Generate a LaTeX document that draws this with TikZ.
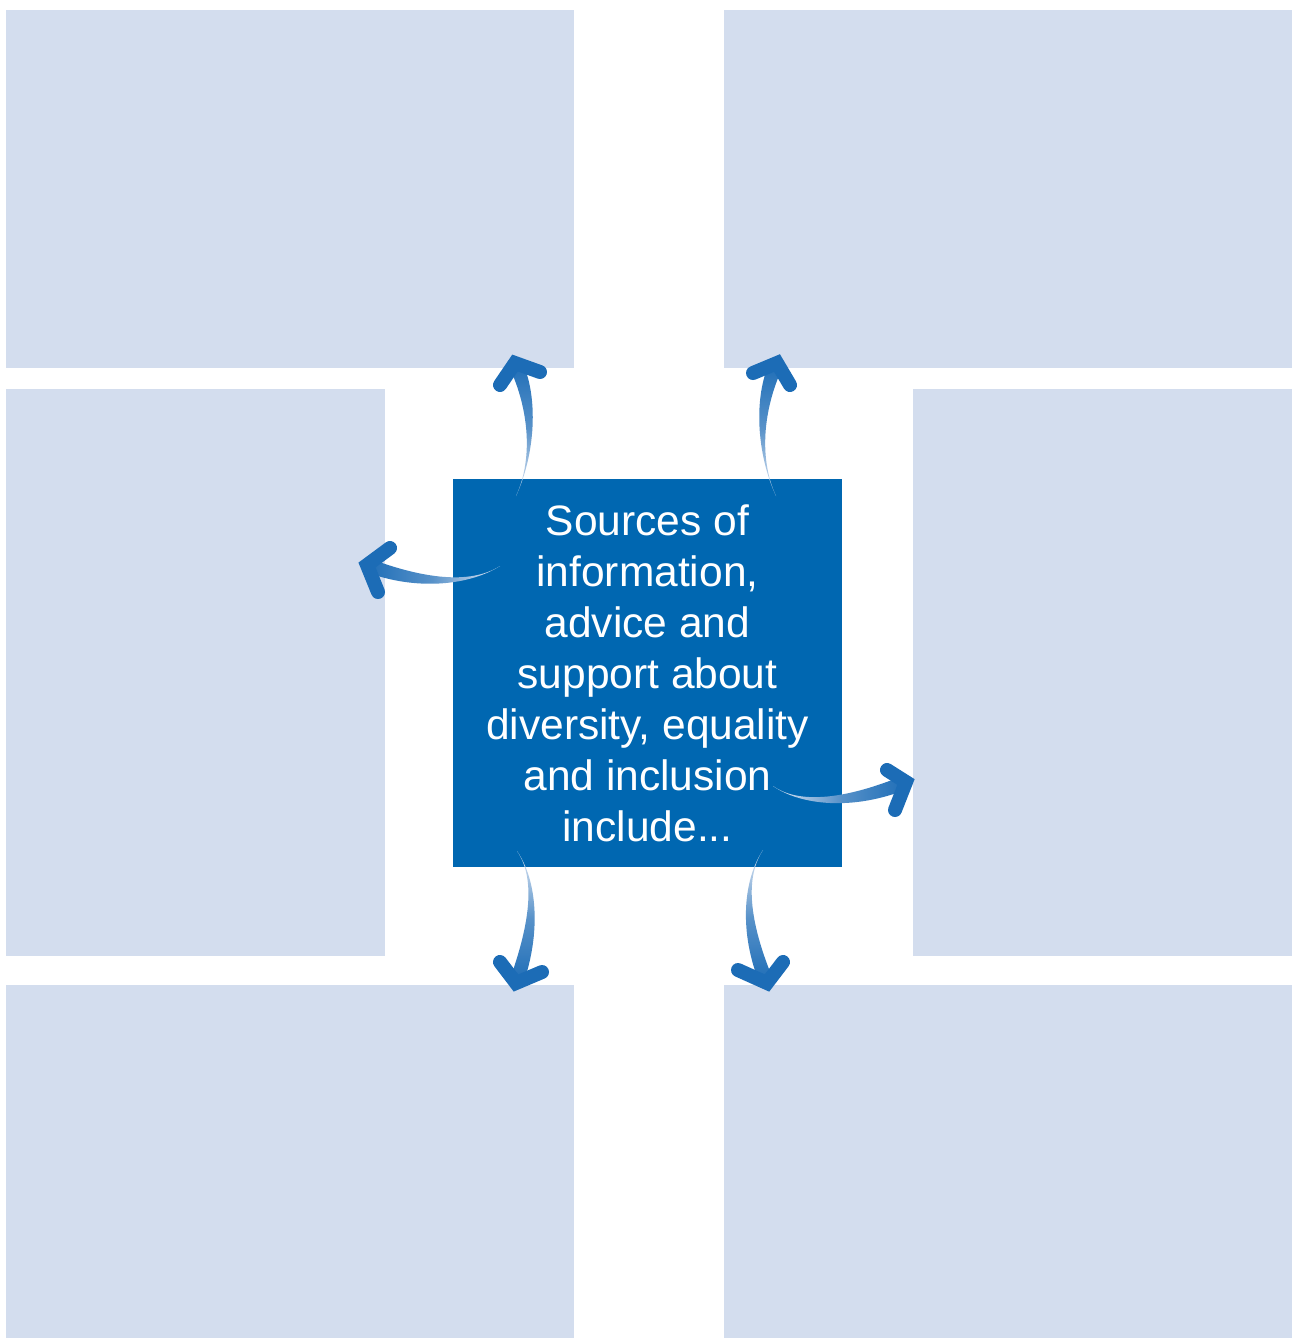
\documentclass[tikz,border=0pt]{standalone}
\usepackage{fontspec}
\newfontfamily\arialf{Liberation Sans}
\usetikzlibrary{calc}
\definecolor{panel}{HTML}{D3DDEE}
\definecolor{corebox}{HTML}{0067B1}
\definecolor{arrowblue}{HTML}{1C6CB6}
\definecolor{arrowpale}{HTML}{E2E9F5}
\tikzset{
  panelbox/.style={fill=panel, draw=none},
  headstroke/.style={draw=arrowblue, line width=14pt, line cap=round, line join=miter},
}
% #1 shading options, #2 tail, #3 c1, #4 c2, #5 apex, #6 arm1, #7 arm2
\newcommand\taperarrow[7]{%
  \coordinate (hl) at ($#5!7pt!90:#4$);
  \coordinate (hr) at ($#5!7pt!-90:#4$);
  \shade[#1] #2 .. controls #3 and ($#4+(hl)-#5$) .. (hl) -- (hr)
     .. controls ($#4+(hr)-#5$) and #3 .. #2 -- cycle;
  \draw[headstroke] #6 -- #5 -- #7;
}
\begin{document}
\begin{tikzpicture}[x=1pt,y=-1pt]
\useasboundingbox (0,0) rectangle (1292,1338);
\fill[white] (0,0) rectangle (1292,1338);
% panels
\path[panelbox] (6,10) rectangle (574,368) coordinate (tl);
\path[panelbox] (724,10) rectangle (1292,368) coordinate (tr);
\path[panelbox] (6,389) rectangle (385,956) coordinate (ml);
\path[panelbox] (913,389) rectangle (1292,956) coordinate (mr);
\path[panelbox] (6,985) rectangle (574,1338) coordinate (bl);
\path[panelbox] (724,985) rectangle (1292,1338) coordinate (br);
% centre
\fill[corebox] (453,479) rectangle (842,867);
\node[text=white, align=center, font=\arialf\fontsize{42.5}{51}\selectfont, inner sep=0pt]
  (core) at (647.5,673.5) {Sources of\\information,\\advice and\\support about\\diversity, equality\\and inclusion\\include...};
% arrows
\taperarrow{top color=arrowblue, bottom color=arrowpale, middle color=arrowblue!70!arrowpale}{(516,496)}{(535,455)}{(533,400)}{(515,363)}{(500,385)}{(540,372)}
\taperarrow{top color=arrowblue, bottom color=arrowpale, middle color=arrowblue!70!arrowpale}{(776,496)}{(757,455)}{(759,400)}{(777,363)}{(753,373)}{(790,385)}
\taperarrow{left color=arrowblue, right color=arrowpale, middle color=arrowblue!70!arrowpale}{(500,566)}{(470,585)}{(420,585)}{(367,565)}{(390,548)}{(378,592)}
\taperarrow{right color=arrowblue, left color=arrowpale, middle color=arrowblue!70!arrowpale}{(773,786)}{(800,805)}{(850,805)}{(906,782)}{(887,770)}{(895,810)}
\taperarrow{bottom color=arrowblue, top color=arrowpale, middle color=arrowblue!70!arrowpale}{(517,851)}{(537,880)}{(535,930)}{(516,983)}{(500,962)}{(542,972)}
\taperarrow{bottom color=arrowblue, top color=arrowpale, middle color=arrowblue!70!arrowpale}{(763,850)}{(743,880)}{(745,930)}{(767,983)}{(738,970)}{(783,962)}
\end{tikzpicture}
\end{document}
